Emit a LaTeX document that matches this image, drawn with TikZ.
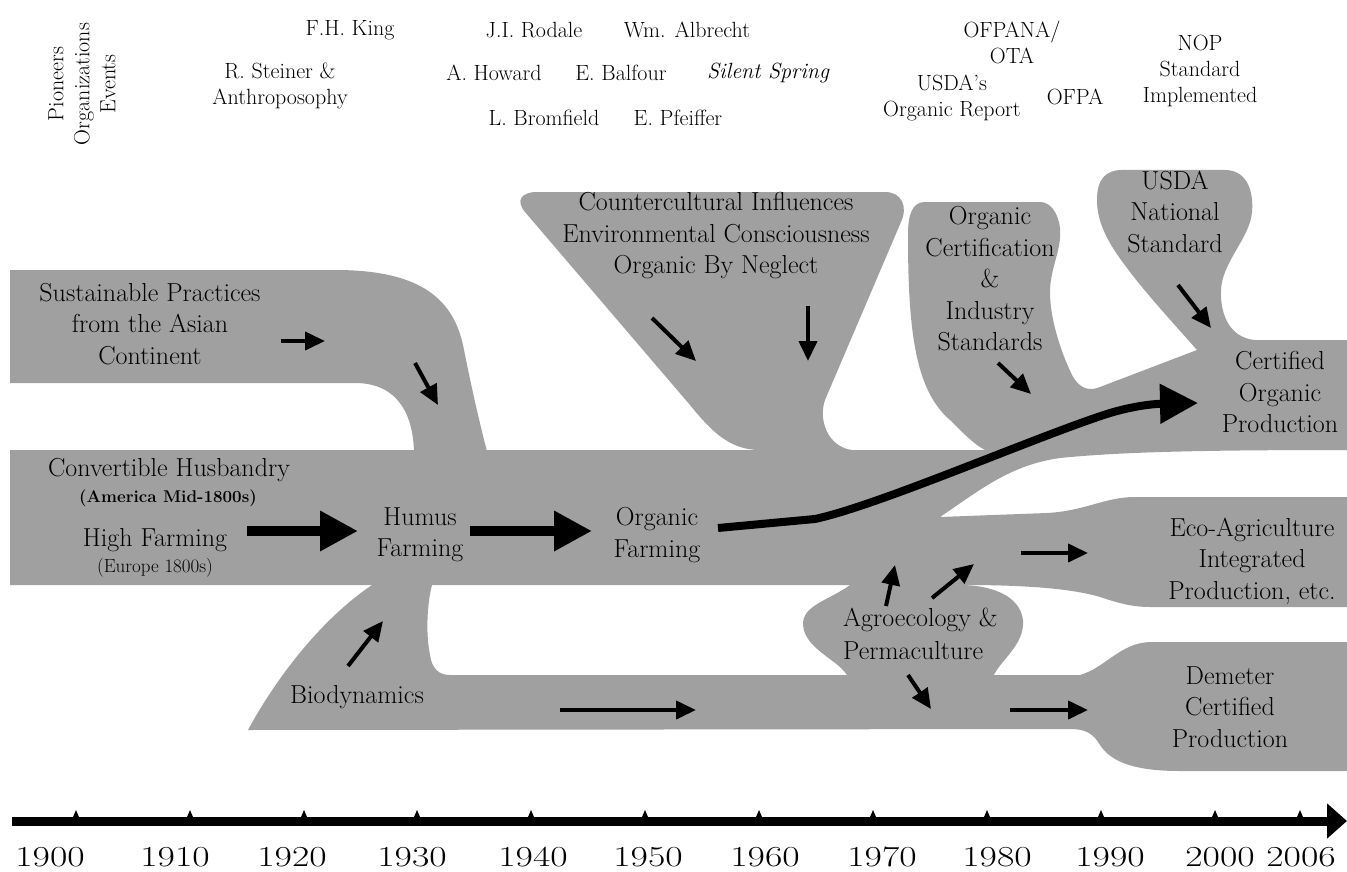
\documentclass[tikz,border=0pt]{standalone}
\usepackage{graphicx}
\usetikzlibrary{arrows.meta}
\definecolor{bandgray}{RGB}{160,160,160}
\begin{document}
\begin{tikzpicture}[x=1pt,y=-1pt,
  band/.style={fill=bandgray,draw=none},
  lab/.style={font=\fontsize{26}{31.5}\selectfont,align=center,inner sep=0pt},
  toplab/.style={font=\fontsize{22}{26}\selectfont,align=center,inner sep=0pt},
  yr/.style={font=\fontsize{29}{29}\selectfont,inner sep=0pt,anchor=base},
  bigarrow/.style={line width=10pt,-{Triangle[length=38pt,width=38pt]}},
  curvearrow/.style={line width=8pt,line join=round,-{Triangle[length=38pt,width=38pt]}},
  smallarrow/.style={line width=4pt,-{Triangle[length=20pt,width=18pt]}},
  axisarrow/.style={line width=9pt,-{Triangle[length=20pt,width=34pt]}}
]
\useasboundingbox (0,0) rectangle (1347,872);
\fill[white] (0,0) rectangle (1347,872);

% ---- gray streams ----
% Asian continent band
\fill[band] (10,270) -- (335,270) .. controls (415,270) and (452,295) .. (463,345)
  .. controls (472,390) and (480,425) .. (488,455) -- (414,455)
  .. controls (414,415) and (398,383) .. (355,383) -- (10,383) -- cycle;
% main band with funnels, certified and eco streams
\fill[band] (10,450) -- (760,450)
  .. controls (730,450) and (712,432) .. (690,405) -- (525,212)
  .. controls (515,200) and (522,192) .. (537,192) -- (885,192)
  .. controls (902,192) and (908,207) .. (901,222) -- (825,400)
  .. controls (818,420) and (828,447) .. (852,450) -- (985,450)
  .. controls (975,445) and (965,435) .. (950,420)
  .. controls (915,390) and (908,330) .. (908,235)
  .. controls (908,215) and (912,202) .. (925,202) -- (1040,202)
  .. controls (1050,202) and (1058,212) .. (1060,228)
  .. controls (1062,250) and (1050,268) .. (1050,292)
  .. controls (1050,318) and (1060,350) .. (1072,375)
  .. controls (1080,390) and (1090,391) .. (1100,387) -- (1197,350)
  .. controls (1175,325) and (1150,298) .. (1130,272)
  .. controls (1110,246) and (1097,225) .. (1097,200)
  .. controls (1097,180) and (1105,170) .. (1122,170) -- (1225,170)
  .. controls (1245,170) and (1254,188) .. (1252,212)
  .. controls (1250,238) and (1222,262) .. (1221,290)
  .. controls (1220,318) and (1232,338) .. (1255,340) -- (1347,340) -- (1347,450)
  .. controls (1200,450) and (1120,452) .. (1060,458)
  .. controls (1010,465) and (980,490) .. (940,517) -- (1047,513)
  .. controls (1085,511) and (1105,497) .. (1135,497) -- (1347,497) -- (1347,607) -- (1150,607)
  .. controls (1132,607) and (1118,603) .. (1100,597)
  .. controls (1070,588) and (1020,585) .. (965,585) -- (10,585) -- cycle;
% agroecology blob
\fill[band] (850,585) .. controls (830,600) and (802,605) .. (803,625)
  .. controls (805,650) and (840,660) .. (848,677) -- (993,677)
  .. controls (1000,660) and (1025,645) .. (1023,620)
  .. controls (1020,595) and (990,585) .. (960,585) -- cycle;
% biodynamics / demeter band
\fill[band] (248,730) .. controls (275,680) and (320,620) .. (372,585) -- (432,585)
  .. controls (428,600) and (425,630) .. (430,655)
  .. controls (432,668) and (438,675) .. (450,675) -- (1080,675)
  .. controls (1105,668) and (1120,643) .. (1150,642) -- (1347,642) -- (1347,771) -- (1180,771)
  .. controls (1130,771) and (1110,760) .. (1100,745)
  .. controls (1093,733) and (1085,729) .. (1070,729) -- cycle;

% ---- header texts ----
\node[toplab,rotate=90] (poe) at (82,84) {Pioneers\\Organizations\\Events};
\node[toplab] (king) at (350,30) {F.H. King};
\node[toplab] (steiner) at (280,86) {R. Steiner \&\\Anthroposophy};
\node[toplab] (rodale) at (534,30) {J.I. Rodale};
\node[toplab] (albrecht) at (687,30) {Wm. Albrecht};
\node[toplab] (howard) at (494,73) {A. Howard};
\node[toplab] (balfour) at (621,73) {E. Balfour};
\node[toplab,font=\fontsize{22}{26}\selectfont\itshape] (silent) at (768,73) {Silent Spring};
\node[toplab] (bromfield) at (544,118) {L. Bromfield};
\node[toplab] (pfeiffer) at (678,118) {E. Pfeiffer};
\node[toplab] (ofpana) at (1012,42) {OFPANA/\\OTA};
\node[toplab] (usdarep) at (952,98) {USDA's\\Organic Report};
\node[toplab] (ofpa) at (1075,97) {OFPA};
\node[toplab] (nop) at (1200,71) {NOP\\Standard\\Implemented};

% ---- stream labels ----
\node[lab] (asian) at (150,324) {Sustainable Practices\\from the Asian\\Continent};
\node[lab] (conv) at (169,470) {Convertible Husbandry};
\node[inner sep=0pt,font=\fontsize{17}{20}\selectfont\bfseries] (america) at (168,498) {(America Mid-1800s)};
\node[lab] (high) at (155,540) {High Farming};
\node[inner sep=0pt,font=\fontsize{19}{22}\selectfont] (europe) at (155,568) {(Europe 1800s)};
\node[lab] (humus) at (420,535) {Humus\\Farming};
\node[lab] (organic) at (657,535) {Organic\\Farming};
\node[lab] (counter) at (716,236) {Countercultural Influences\\Environmental Consciousness\\Organic By Neglect};
\node[lab] (cert) at (990,279) {Organic\\Certification\\\&\\Industry\\Standards};
\node[lab] (usdanat) at (1175,212) {USDA\\National\\Standard};
\node[lab] (certprod) at (1280,392) {Certified\\Organic\\Production};
\node[lab] (eco) at (1252,561) {Eco-Agriculture\\Integrated\\Production, etc.};
\node[lab] (demeter) at (1230,707) {Demeter\\Certified\\Production};
\node[lab,align=left,anchor=west,font=\fontsize{26}{33}\selectfont] (agro) at (843,634) {Agroecology \&\\Permaculture};
\node[lab] (bio) at (357,697) {Biodynamics};

% ---- arrows ----
\coordinate (a1s) at (247,531); \coordinate (a1e) at (358,531);
\coordinate (a2s) at (470,531); \coordinate (a2e) at (592,531);
\draw[bigarrow] (a1s) -- (a1e);
\draw[bigarrow] (a2s) -- (a2e);
\coordinate (cs) at (718,528); \coordinate (cm) at (815,519); \coordinate (ce) at (1198,403);
\draw[curvearrow] (cs) -- (cm) .. controls (880,505) and (1040,435) .. (1110,413)
  .. controls (1130,407) and (1150,404) .. (ce);

\coordinate (s1a) at (281,341); \coordinate (s1b) at (325,341);
\coordinate (s2a) at (415,363); \coordinate (s2b) at (438,405);
\coordinate (s3a) at (652,318); \coordinate (s3b) at (696,361);
\coordinate (s4a) at (808,306); \coordinate (s4b) at (808,361);
\coordinate (s5a) at (998,363); \coordinate (s5b) at (1031,394);
\coordinate (s6a) at (1178,285); \coordinate (s6b) at (1211,328);
\coordinate (s7a) at (1021,553); \coordinate (s7b) at (1088,553);
\coordinate (s8a) at (886,606); \coordinate (s8b) at (895,565);
\coordinate (s9a) at (932,598); \coordinate (s9b) at (974,564);
\coordinate (s10a) at (908,675); \coordinate (s10b) at (931,709);
\coordinate (s11a) at (1010,710); \coordinate (s11b) at (1088,710);
\coordinate (s12a) at (348,666); \coordinate (s12b) at (383,621);
\coordinate (s13a) at (560,710); \coordinate (s13b) at (696,710);
\foreach \p in {1,...,13} {\draw[smallarrow] (s\p a) -- (s\p b);}

% ---- time axis ----
\coordinate (ax0) at (12,821); \coordinate (ax1) at (1347,821);
\draw[axisarrow] (ax0) -- (ax1);
\foreach \t in {76,190,304,417,531,645,759,873,987,1101,1215,1300}
  {\fill (\t-3,817) -- (\t,810) -- (\t+3,817) -- cycle;}
\foreach \x/\yy in {50/1900,175/1910,292/1920,412/1930,533/1940,648/1950,765/1960,882/1970,997/1980,1110/1990,1220/2000,1301/2006}
  {\node[yr] (yr\yy) at (\x,866) {\scalebox{1.3}[1]{\yy}};}
\end{tikzpicture}
\end{document}
